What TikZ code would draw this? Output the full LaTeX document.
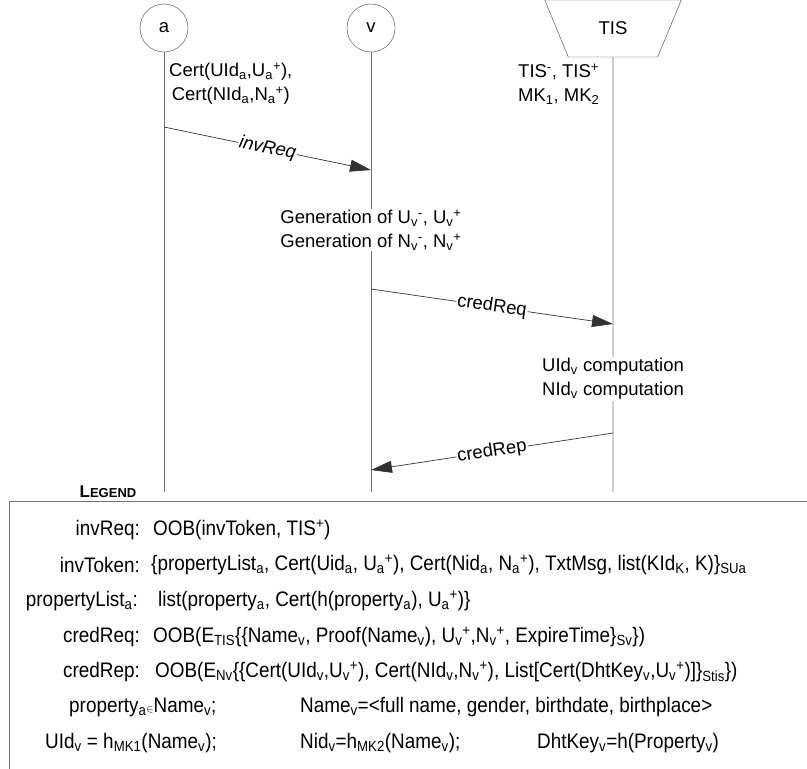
\documentclass[tikz,border=0pt]{standalone}
\usepackage{fontspec}
\setmainfont{Liberation Sans}
\newfontfamily\legendfont[FakeStretch=0.9]{Liberation Sans}
\usetikzlibrary{arrows.meta, shapes.geometric}

\newcommand{\subsup}[2]{\textsubscript{#1}\textsuperscript{#2}}

\begin{document}
\begin{tikzpicture}[x=1pt, y=-1pt,
        actor/.style={draw=black!75, circle, minimum size=48pt, inner sep=0pt, font=\fontsize{18.5}{22}\selectfont},
        server/.style={draw=black!75, trapezium, shape border rotate=180, trapezium stretches=true,
            trapezium left angle=60, trapezium right angle=60, minimum width=137pt, minimum height=57pt,
            inner sep=0pt, font=\fontsize{18.5}{22}\selectfont},
        life/.style={draw=black!55, line width=0.8pt},
        msg/.style={draw=black!80, line width=0.7pt, -{Triangle[length=21pt, width=12pt]}},
        msglabel/.style={fill=white, sloped, midway, inner sep=1pt, font=\fontsize{18.5}{22}\selectfont},
        note/.style={fill=white, align=left, inner sep=1pt, font=\fontsize{18.5}{24}\selectfont},
        legendkey/.style={anchor=east, inner sep=0pt, font=\legendfont\fontsize{21}{24}\selectfont},
        legendval/.style={anchor=west, inner sep=0pt, font=\legendfont\fontsize{21}{24}\selectfont}]

    \useasboundingbox (0,0) rectangle (807,769);

    \node[actor] (a) at (164,28) {a};
    \node[actor] (v) at (371,28) {v};
    \node[server] (tis) at (613,28.5) {TIS};

    \coordinate (aend) at (164,492);
    \coordinate (vend) at (371,492);
    \coordinate (tisend) at (613,492);
    \draw[life] (a) -- (aend);
    \draw[life] (v) -- (vend);
    \draw[life] (tis) -- (tisend);

    \node[note, align=center, anchor=west, fill=none] (acert) at (168,84)
        {Cert(UId\textsubscript{a},U\subsup{a}{+}),\\Cert(NId\textsubscript{a},N\subsup{a}{+})};
    \node[note, anchor=west, fill=none] (tiskeys) at (517,84)
        {TIS\textsuperscript{-}, TIS\textsuperscript{+}\\MK\textsubscript{1}, MK\textsubscript{2}};

    \coordinate (invS) at (164,127);
    \coordinate (invE) at (371,170);
    \draw[msg] (invS) -- node[msglabel, font=\fontsize{18.5}{22}\selectfont\itshape] {invReq} (invE);

    \node[note] (vgen) at (371,230)
        {Generation of U\subsup{v}{-}, U\subsup{v}{+}\\Generation of N\subsup{v}{-}, N\subsup{v}{+}};

    \coordinate (creqS) at (371,289);
    \coordinate (creqE) at (613,324);
    \draw[msg] (creqS) -- node[msglabel] {credReq} (creqE);

    \node[note] (tiscomp) at (613,379)
        {UId\textsubscript{v} computation\\NId\textsubscript{v} computation};

    \coordinate (crepS) at (613,433);
    \coordinate (crepE) at (371,470);
    \draw[msg] (crepS) -- node[msglabel] {credRep} (crepE);

    % legend
    \node[font=\bfseries\fontsize{17}{19}\selectfont] (legend) at (108,492) {L{\fontsize{13}{15}\selectfont EGEND}};
    \coordinate (boxtl) at (9,501);
    \coordinate (boxtr) at (807,501);
    \coordinate (boxbl) at (9,769);
    \draw[draw=black!55, line width=0.8pt] (boxtr) -- (boxtl) -- (boxbl);

    \node[legendkey] (k1) at (140,530) {invReq:};
    \node[legendval] (d1) at (153,530) {OOB(invToken, TIS\textsuperscript{+})};
    \node[legendkey] (k2) at (140,565) {invToken:};
    \node[legendval] (d2) at (151,565)
        {\{propertyList\textsubscript{a}, Cert(Uid\textsubscript{a}, U\subsup{a}{+}), Cert(Nid\textsubscript{a}, N\subsup{a}{+}), TxtMsg, list(KId\textsubscript{K}, K)\}\textsubscript{SUa}};
    \node[legendkey] (k3) at (138,601) {propertyList\textsubscript{a}:};
    \node[legendval] (d3) at (158,601)
        {list(property\textsubscript{a}, Cert(h(property\textsubscript{a}), U\subsup{a}{+})\}};
    \node[legendkey] (k4) at (140,637) {credReq:};
    \node[legendval] (d4) at (153,637)
        {OOB(E\textsubscript{TIS}\{\{Name\textsubscript{v}, Proof(Name\textsubscript{v}), U\subsup{v}{+},N\subsup{v}{+}, ExpireTime\}\textsubscript{Sv}\})};
    \node[legendkey] (k5) at (140,672) {credRep:};
    \node[legendval] (d5) at (155,672)
        {OOB(E\textsubscript{Nv}\{\{Cert(UId\textsubscript{v},U\subsup{v}{+}), Cert(NId\textsubscript{v},N\subsup{v}{+}), List[Cert(DhtKey\textsubscript{v},U\subsup{v}{+})]\}\textsubscript{Stis}\})};
    \node[legendval] (d6) at (69,707) {property\textsubscript{a}{\fontsize{11}{11}\selectfont$\in$}Name\textsubscript{v};};
    \node[legendval] (d7) at (300,707) {Name\textsubscript{v}=<full name, gender, birthdate, birthplace>};
    \node[legendval] (d8) at (45,743) {UId\textsubscript{v} = h\textsubscript{MK1}(Name\textsubscript{v});};
    \node[legendval] (d9) at (300,743) {Nid\textsubscript{v}=h\textsubscript{MK2}(Name\textsubscript{v});};
    \node[legendval] (d10) at (537,743) {DhtKey\textsubscript{v}=h(Property\textsubscript{v})};
\end{tikzpicture}
\end{document}
